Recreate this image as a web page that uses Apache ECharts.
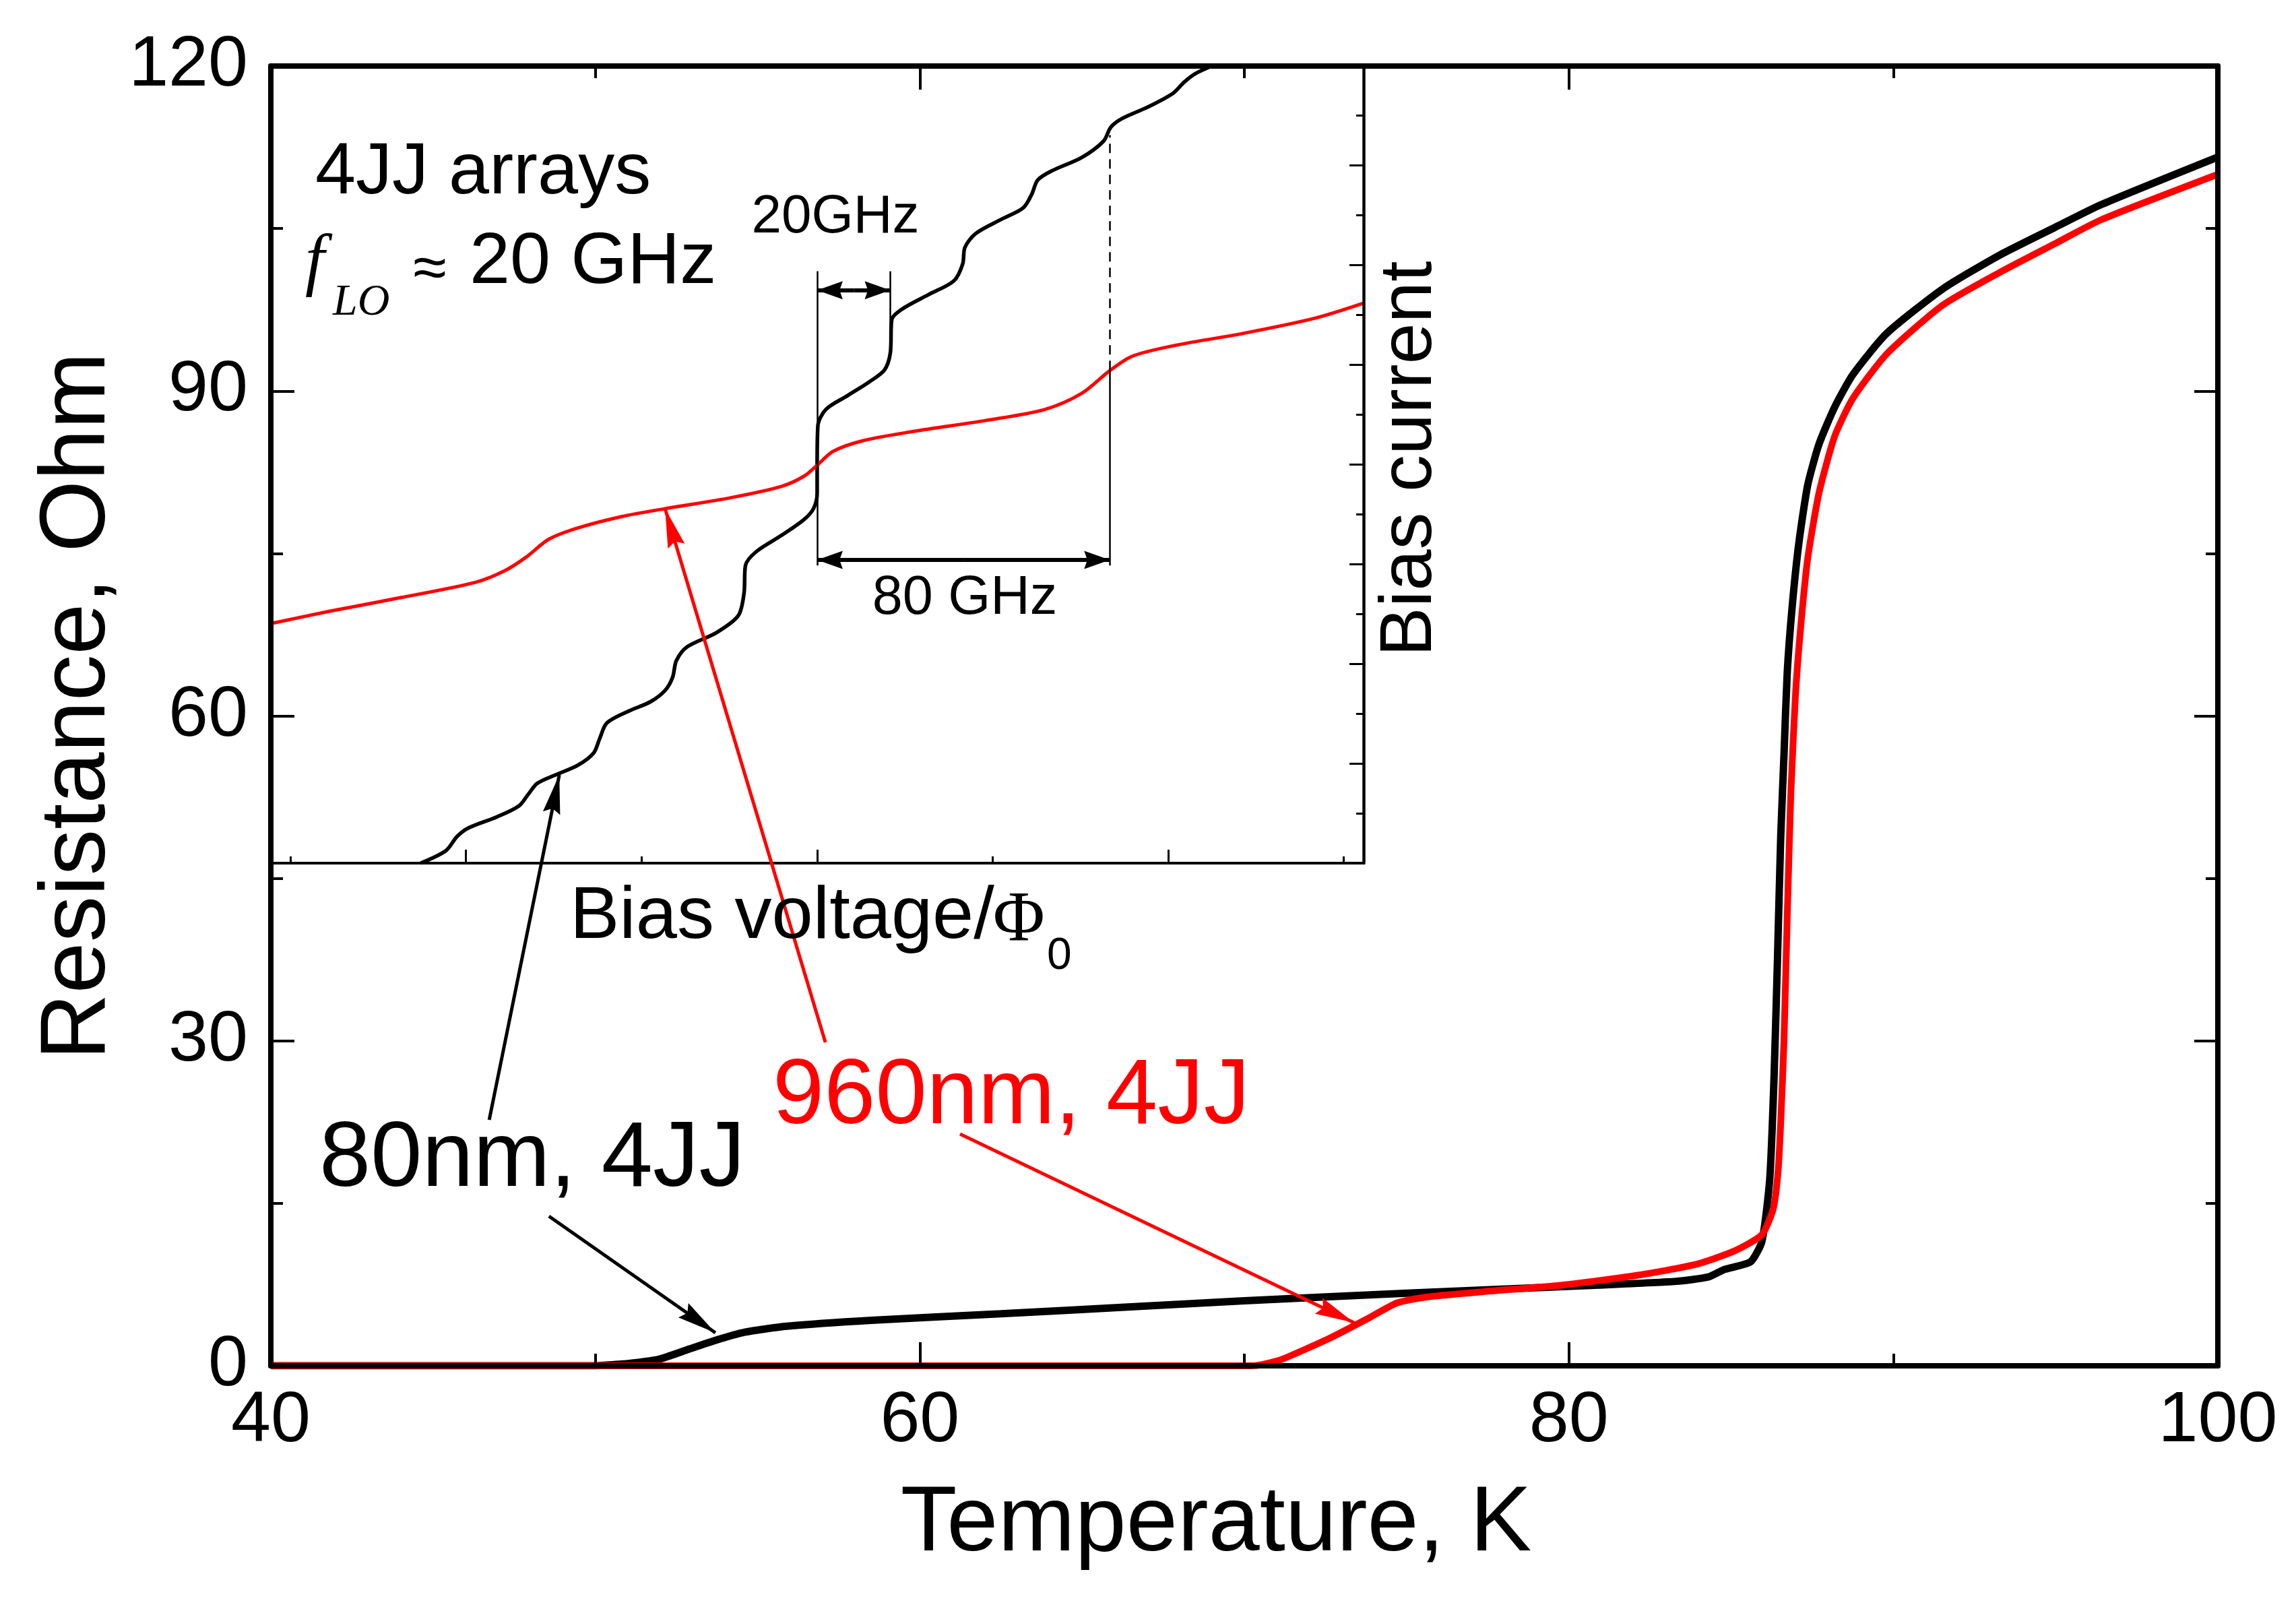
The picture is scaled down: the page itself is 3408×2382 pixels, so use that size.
<!DOCTYPE html>
<html>
<head>
<meta charset="utf-8">
<script src="https://cdn.jsdelivr.net/npm/echarts@6/dist/echarts.min.js"></script>
<style>
html,body{margin:0;padding:0;background:#fff;}
#chart{width:3408px;height:2382px;}
</style>
</head>
<body>
<div id="chart"></div>
<script>
// ---- Main panel: Resistance (Ohm) vs Temperature (K)
const temp80 = [40,50,50.3,51,51.95,52.9,53.7,54.6,55.9,58.5,62.5,66.5,70,75,80.9,83.3,84.3,84.8,85.6,85.95,86.19,86.32,86.43,86.53,86.63,86.73,86.88,87.09,87.36,87.71,88.19,88.75,89.79,91.51,93.25,94.98,96.4,100];
const res80 = [0,0,0.05,0.2,0.6,1.55,2.35,3.1,3.65,4.2,4.8,5.45,6.0,6.7,7.45,7.8,8.2,8.9,9.6,11.5,17.2,26.3,37.6,48.9,56.4,64,70,76,81.3,85.1,88.5,91.5,95.3,99.4,102.5,105.1,107.2,111.6];
const temp960 = [40,70.2,70.6,71.2,72.6,73.8,74.7,75.6,77.4,79.8,82.1,83.9,85.1,85.95,86.3,86.45,86.53,86.63,86.73,86.84,86.98,87.13,87.36,87.71,88.19,88.75,89.79,91.51,93.25,94.98,96.4,100];
const res960 = [0,0,0.15,0.65,2.5,4.35,5.8,6.35,6.85,7.45,8.35,9.35,10.6,12.1,14.5,18,22.5,30,41.4,52.7,61.7,67.7,74.5,80.6,85.8,89.3,93.4,97.9,100.9,103.6,105.8,110.0];
const xTickLabels = [40,60,80,100];
const yTickLabels = [0,30,60,90,120];

// ---- Inset: bias current (arb.) vs bias voltage / Phi0 (GHz units, 0 at the centre step)
const insetV80 = [-108.4,-101.5,-98.5,-95.5,-87.5,-81.5,-79.1,-76.5,-71.5,-65.5,-61.1,-59.5,-57.5,-51.5,-45.5,-41.5,-39.5,-38.5,-35.5,-27.6,-21.6,-20.0,-19.6,-16.6,-9.6,-3.6,-1.0,0,0,0.2,2.4,8.4,14.4,18.4,20.0,20.4,23.4,30.4,37.4,39.8,40.4,43.4,50.3,56.3,58.7,60.3,64.3,72.3,78.3,80.3,83.3,90.3,97.3,100.3,103.3,108.3];
const insetI80 = [0,0.25,0.53,0.70,0.93,1.15,1.37,1.60,1.77,1.96,2.21,2.49,2.81,3.05,3.24,3.47,3.73,4.06,4.34,4.62,4.96,5.41,5.97,6.25,6.58,6.89,7.11,7.42,7.98,8.77,9.10,9.38,9.66,9.89,10.23,10.90,11.12,11.40,11.68,12.02,12.35,12.63,12.91,13.14,13.42,13.70,13.89,14.15,14.48,14.76,14.93,15.16,15.44,15.66,15.83,16.0];
const insetV960 = [-149.0,-133.4,-113.5,-93.5,-85.5,-79.5,-73.5,-65.5,-53.5,-41.5,-23.6,-9.6,-3.6,0,4.4,12.4,26.4,46.3,62.3,72.3,79.9,86.3,98.3,116.2,136.2,149.4];
const insetI960 = [4.81,5.05,5.33,5.63,5.86,6.14,6.49,6.72,6.95,7.11,7.33,7.56,7.76,7.98,8.26,8.47,8.66,8.88,9.10,9.42,9.87,10.17,10.39,10.62,10.93,11.23];
const insetMajorTicks = [-96,0,96];
const insetMinorTicks = [-144,-48,48,144];

// ---- Annotation geometry in data units
const arrowBlackInset = [[46.73,22.71],[48.89,54.56]];
const arrowRedInset = [[57.09,29.86],[52.15,79.13]];
const arrowBlackCurve = [[48.57,13.81],[53.70,3.05]];
const arrowRedCurve = [[61.24,21.40],[73.38,3.98]];
const markerLine0 = [[0,5.97],[0,11.87]];
const markerLine20 = [[20,10.2],[20,11.87]];
const markerLine80 = [[80,5.97],[80,9.89]];
const markerLine80Dash = [[80,9.89],[80,14.6]];
const span20 = [0, 20, 11.49];   // from, to, level
const span80 = [0, 80, 6.08];

const zip = (a,b) => a.map((v,i) => [v,b[i]]);
const SANS = "'Liberation Sans', Arial, sans-serif";
const SERIF = "'Liberation Serif', 'Times New Roman', serif";
const HEAD = 'path://M5,0 L10,12 L5,10.5 L0,12 Z';

function arrowLine(seg, color, width, head) {
  return [
    {coord: seg[0], symbol: 'none', lineStyle: {color: color, width: width, type: 'solid'}},
    {coord: seg[1], symbol: HEAD, symbolSize: head, symbolOffset: [0, '50%'], itemStyle: {color: color}}
  ];
}
function plainLine(seg, width, type) {
  return [
    {coord: seg[0], symbol: 'none', lineStyle: {color: '#000', width: width, type: type || 'solid'}},
    {coord: seg[1], symbol: 'none'}
  ];
}
// double-headed arrow drawn as two single arrows from the middle outwards
function doubleArrow(span, width, head) {
  const mid = (span[0] + span[1]) / 2;
  return [
    arrowLine([[mid, span[2]], [span[0], span[2]]], '#000', width, head),
    arrowLine([[mid, span[2]], [span[1], span[2]]], '#000', width, head)
  ];
}

function txt(x, y, text, size, opt) {
  opt = opt || {};
  const align = opt.align || 'left';
  return {
    type: 'text', x: x, y: y, rotation: opt.rotation || 0, z: 100, silent: true,
    style: {
      text: text,
      x: 0, y: 0,
      fill: opt.color || '#000',
      font: (opt.italic ? 'italic ' : '') + size + 'px ' + (opt.family || SANS),
      align: align, verticalAlign: 'middle',
      textAlign: align, textVerticalAlign: 'middle'
    }
  };
}

const mainAxisLine = () => ({show: true, onZero: false, lineStyle: {color: '#000', width: 8}});
const mainTick = () => ({show: true, inside: true, length: 35, lineStyle: {color: '#000', width: 4}});
const mainMinor = () => ({show: true, splitNumber: 2, length: 18, lineStyle: {color: '#000', width: 4}});

const chart = echarts.init(document.getElementById('chart'), null, {renderer: 'canvas'});
const option = {
  animation: false,
  backgroundColor: '#fff',
  grid: [
    {left: 402, top: 98, width: 2890, height: 1929},
    {left: 404, top: 97, width: 1620, height: 1184}
  ],
  xAxis: [
    {gridIndex: 0, type: 'value', position: 'bottom', min: 40, max: 100, interval: 20, z: 6,
     axisLine: mainAxisLine(), axisTick: mainTick(), minorTick: mainMinor(), splitLine: {show: false}, minorSplitLine: {show: false},
     axisLabel: {fontSize: 106, fontFamily: SANS, color: '#000', margin: 30,
       formatter: v => xTickLabels.indexOf(v) >= 0 ? String(v) : ''}},
    {gridIndex: 0, type: 'value', position: 'top', min: 40, max: 100, interval: 20, z: 6,
     axisLine: mainAxisLine(), axisTick: mainTick(), minorTick: mainMinor(), splitLine: {show: false}, axisLabel: {show: false}},
    {gridIndex: 1, type: 'value', position: 'bottom', min: -149, max: 149.4, z: 4,
     axisLine: {show: true, onZero: false, lineStyle: {color: '#000', width: 4}},
     axisTick: {show: true, inside: true, length: 20, customValues: insetMajorTicks, lineStyle: {color: '#000', width: 3}},
     splitLine: {show: false}, axisLabel: {show: false}},
    {gridIndex: 1, type: 'value', position: 'bottom', min: -149, max: 149.4, z: 4,
     axisLine: {show: false, onZero: false},
     axisTick: {show: true, inside: true, length: 10, customValues: insetMinorTicks, lineStyle: {color: '#000', width: 3}},
     splitLine: {show: false}, axisLabel: {show: false}}
  ],
  yAxis: [
    {gridIndex: 0, type: 'value', position: 'left', min: 0, max: 120, interval: 30, z: 6,
     axisLine: mainAxisLine(), axisTick: mainTick(), minorTick: mainMinor(), splitLine: {show: false},
     axisLabel: {fontSize: 106, fontFamily: SANS, color: '#000', margin: 34,
       formatter: v => yTickLabels.indexOf(v) >= 0 ? String(v) : ''}},
    {gridIndex: 0, type: 'value', position: 'right', min: 0, max: 120, interval: 30, z: 6,
     axisLine: mainAxisLine(), axisTick: mainTick(), minorTick: mainMinor(), splitLine: {show: false}, axisLabel: {show: false}},
    {gridIndex: 1, type: 'value', position: 'right', min: 0, max: 16, interval: 2, z: 4,
     axisLine: {show: true, onZero: false, lineStyle: {color: '#000', width: 4.5}},
     axisTick: {show: true, inside: true, length: 21, lineStyle: {color: '#000', width: 3}},
     minorTick: {show: true, splitNumber: 2, length: 11, lineStyle: {color: '#000', width: 3}},
     splitLine: {show: false}, axisLabel: {show: false}}
  ],
  series: [
    {name: '80nm, 4JJ', type: 'line', xAxisIndex: 0, yAxisIndex: 0, data: zip(temp80, res80),
     showSymbol: false, symbol: 'none', smooth: 0.2, z: 3,
     lineStyle: {color: '#000', width: 11}, silent: true,
     markLine: {silent: true, label: {show: false}, animation: false,
       data: [arrowLine(arrowBlackInset, '#000', 5, [26, 58]), arrowLine(arrowBlackCurve, '#000', 5, [26, 58])]}},
    {name: '960nm, 4JJ', type: 'line', xAxisIndex: 0, yAxisIndex: 0, data: zip(temp960, res960),
     showSymbol: false, symbol: 'none', smooth: 0.2, z: 4,
     lineStyle: {color: '#ff0000', width: 10}, silent: true,
     markLine: {silent: true, label: {show: false}, animation: false,
       data: [arrowLine(arrowRedInset, '#ff0000', 5, [26, 58]), arrowLine(arrowRedCurve, '#ff0000', 5, [26, 58])]}},
    {name: 'inset 80nm', type: 'line', xAxisIndex: 2, yAxisIndex: 2, data: zip(insetV80, insetI80),
     showSymbol: false, symbol: 'none', smooth: 0.3, z: 3, lineStyle: {color: '#000', width: 5.5}, silent: true,
     markLine: {silent: true, label: {show: false}, animation: false,
       data: [plainLine(markerLine0, 2.5), plainLine(markerLine20, 2.5), plainLine(markerLine80, 2.5),
              plainLine(markerLine80Dash, 2.5, [14, 9])]
              .concat(doubleArrow(span20, 6, [27, 38]))
              .concat(doubleArrow(span80, 6, [27, 38]))}},
    {name: 'inset 960nm', type: 'line', xAxisIndex: 2, yAxisIndex: 2, data: zip(insetV960, insetI960),
     showSymbol: false, symbol: 'none', smooth: 0.3, z: 3, lineStyle: {color: '#ff0000', width: 5}, silent: true}
  ],
  graphic: [
    txt(468, 257, '4JJ arrays', 108),
    txt(453, 392, 'f', 103, {italic: true, family: SERIF}),
    txt(494, 450, 'LO', 66, {italic: true, family: SERIF}),
    txt(638, 402, '\u2248', 90, {align: 'center'}),
    txt(697, 390, '20 GHz', 108),
    txt(1240, 323, '20GHz', 80, {align: 'center'}),
    txt(1432, 889, '80 GHz', 81, {align: 'center'}),
    txt(2094, 681, 'Bias current', 110, {align: 'center', rotation: Math.PI / 2}),
    txt(846, 1362, 'Bias voltage/', 110),
    txt(1474, 1368, '\u03A6', 105, {family: SERIF}),
    txt(1554, 1420, '0', 66),
    txt(474, 1722, '80nm, 4JJ', 137),
    txt(1147, 1629, '960nm, 4JJ', 137, {color: '#ff0000'}),
    txt(1805, 2263, 'Temperature, K', 137, {align: 'center'}),
    txt(117, 1048, 'Resistance, Ohm', 137, {align: 'center', rotation: Math.PI / 2})
  ]
};
chart.setOption(option);
</script>
</body>
</html>
